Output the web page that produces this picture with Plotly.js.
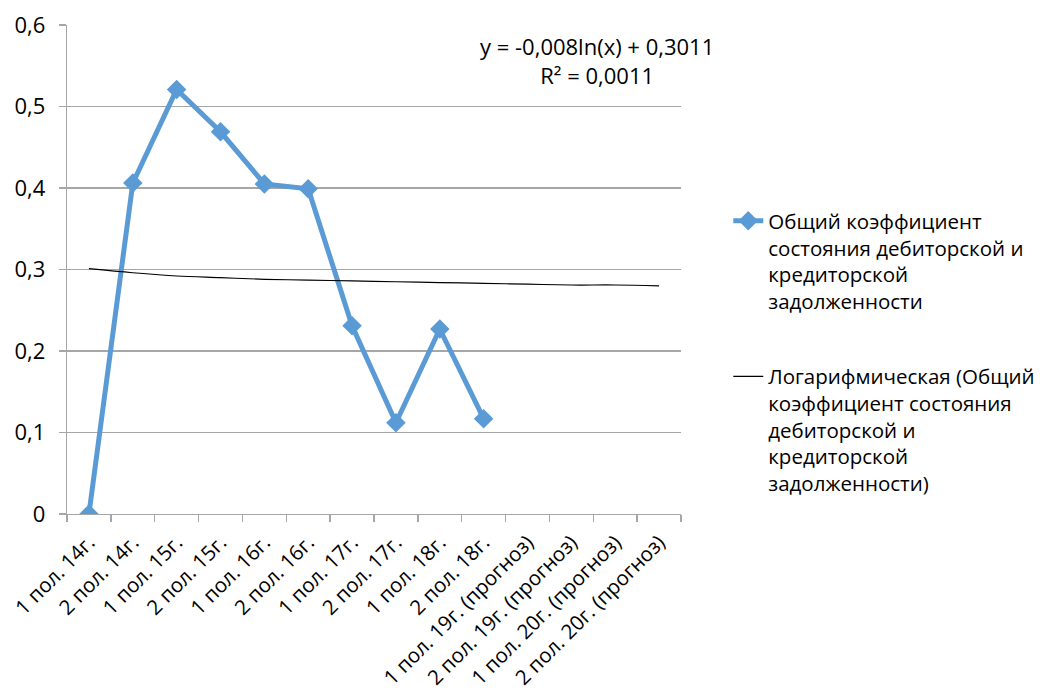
<!DOCTYPE html>
<html>
<head>
<meta charset="utf-8">
<script src="https://cdn.plot.ly/plotly-3.0.1.min.js"></script>
<style>html,body{margin:0;padding:0;background:#fff;}#chart{width:1040px;height:693px;}</style>
</head>
<body>
<div id="chart"></div>
<script>
const categories = [
  "1 пол. 14г.", "2 пол. 14г.", "1 пол. 15г.", "2 пол. 15г.",
  "1 пол. 16г.", "2 пол. 16г.", "1 пол. 17г.", "2 пол. 17г.",
  "1 пол. 18г.", "2 пол. 18г.",
  "1 пол. 19г. (прогноз)", "2 пол. 19г. (прогноз)",
  "1 пол. 20г. (прогноз)", "2 пол. 20г. (прогноз)"
];
const coefValues = [0, 0.406, 0.521, 0.469, 0.405, 0.399, 0.231, 0.112, 0.227, 0.117, null, null, null, null];
const trendValues = [0.301, 0.296, 0.292, 0.290, 0.288, 0.287, 0.286, 0.285, 0.284, 0.283, 0.282, 0.281, 0.281, 0.280];
const seriesName = "Общий коэффициент<br>состояния дебиторской и<br>кредиторской<br>задолженности";
const trendName = "Логарифмическая (Общий<br>коэффициент состояния<br>дебиторской и<br>кредиторской<br>задолженности)";
const equationText = "y = -0,008ln(x) + 0,3011<br>R² = 0,0011";

const FONT = "Open Sans, sans-serif";
const traces = [
  {
    x: categories, y: coefValues, type: "scatter", mode: "lines+markers",
    name: seriesName, legendgroup: "a",
    line: {color: "#5b9bd5", width: 5},
    marker: {symbol: "diamond", size: 15, color: "#5b9bd5"},
    connectgaps: false
  },
  {
    x: categories, y: trendValues, type: "scatter", mode: "lines",
    name: trendName, legendgroup: "b",
    line: {color: "#000000", width: 1.2, shape: "spline"}
  }
];
const layout = {
  width: 1040, height: 693,
  margin: {l: 67, r: 359, t: 25, b: 179, autoexpand: false},
  paper_bgcolor: "#ffffff", plot_bgcolor: "#ffffff",
  separators: ",.",
  font: {family: FONT, size: 21, color: "#000000"},
  showlegend: true,
  legend: {
    x: 1.077, y: 0.64, xanchor: "left", yanchor: "top",
    valign: "top", traceorder: "grouped", tracegroupgap: 46,
    font: {family: FONT, size: 20.5, color: "#000"},
    bgcolor: "rgba(0,0,0,0)"
  },
  xaxis: {
    type: "category", categoryorder: "array", categoryarray: categories,
    tickson: "boundaries", ticks: "outside", ticklen: 7, tickcolor: "#a6a6a6", tickwidth: 1.3,
    showline: true, linecolor: "#a6a6a6", linewidth: 1.3,
    showgrid: false, tickangle: -45, ticklabelstandoff: 7,
    tickfont: {family: FONT, size: 20.5, color: "#000"},
    range: [-0.5, 13.5], fixedrange: true, automargin: false
  },
  yaxis: {
    range: [0, 0.6], dtick: 0.1, tick0: 0,
    ticks: "outside", ticklen: 7, tickcolor: "#a6a6a6", tickwidth: 1.3,
    showline: true, linecolor: "#a6a6a6", linewidth: 1.3,
    showgrid: true, gridcolor: "#a6a6a6", gridwidth: 1.3,
    zeroline: false, ticklabelstandoff: 9, automargin: false,
    tickfont: {family: FONT, size: 22, color: "#000"}
  },
  annotations: [{
    xref: "paper", yref: "paper", x: 0.863, y: 0.928,
    xanchor: "center", yanchor: "middle", align: "center",
    text: equationText, showarrow: false,
    font: {family: FONT, size: 22, color: "#000"}
  }]
};
Plotly.newPlot("chart", traces, layout, {displayModeBar: false, staticPlot: true});
</script>
</body>
</html>
